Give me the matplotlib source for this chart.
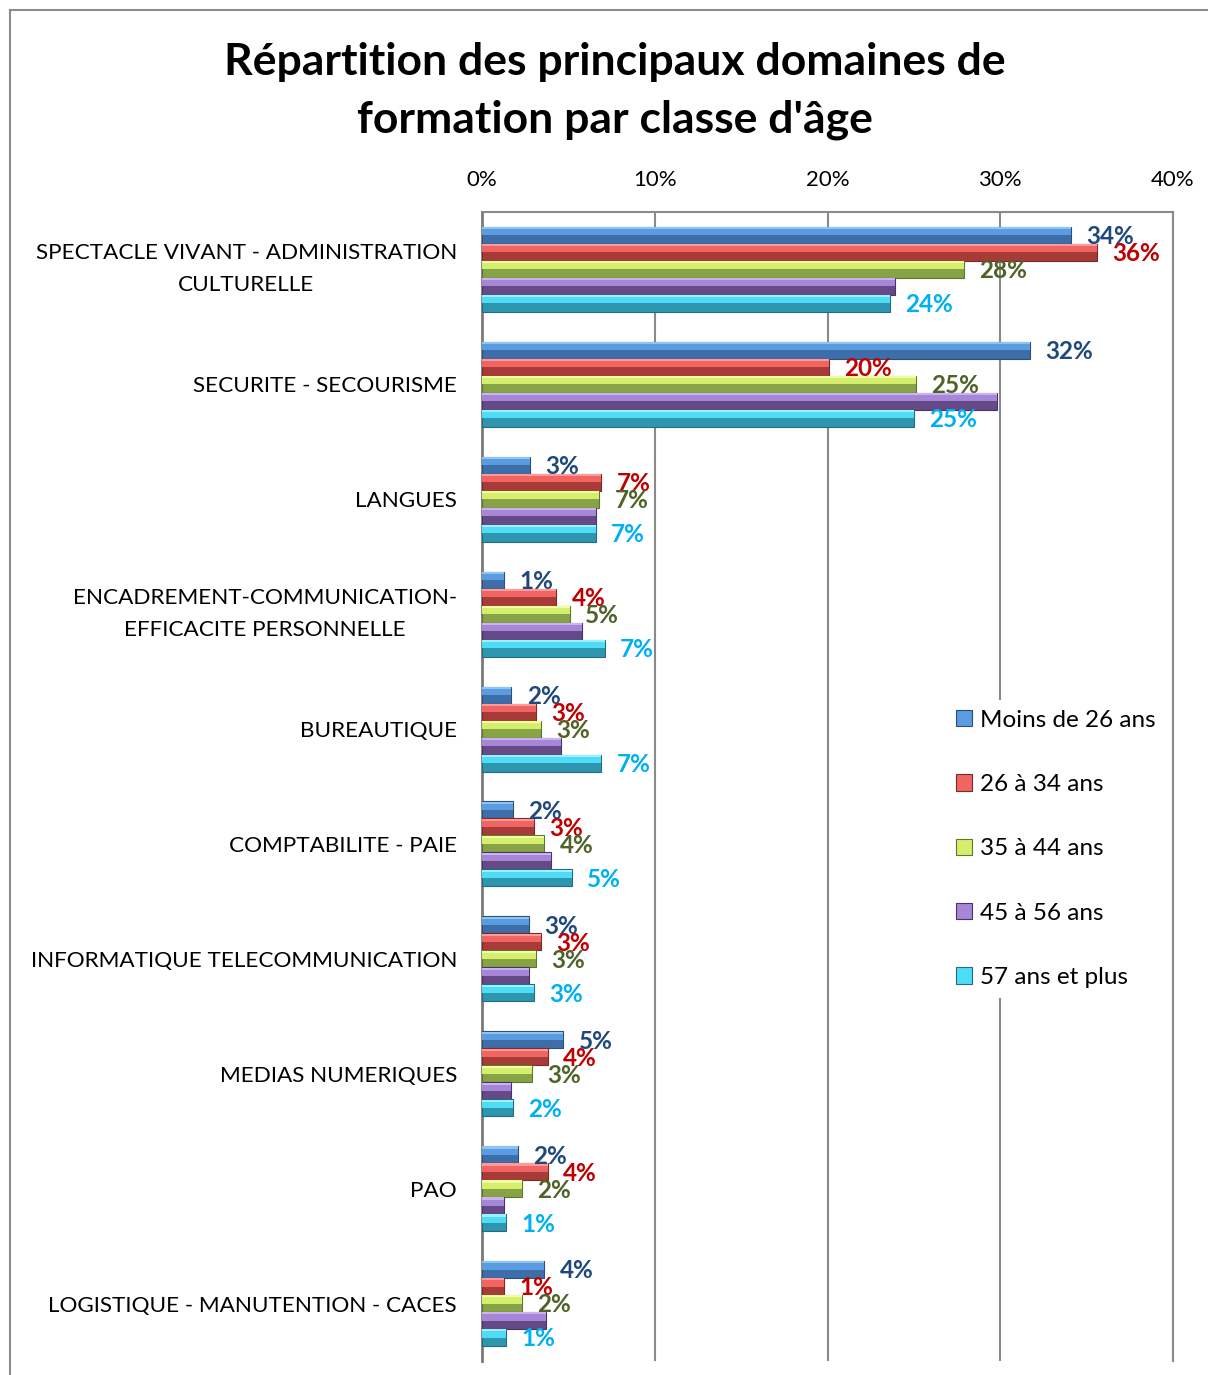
import numpy as np
import matplotlib
matplotlib.use("Agg")
import matplotlib.pyplot as plt
from matplotlib.patches import Patch
from matplotlib.lines import Line2D

plt.rcParams['font.family'] = ['Lato', 'DejaVu Sans']

categories = [
    "SPECTACLE VIVANT - ADMINISTRATION\nCULTURELLE",
    "SECURITE - SECOURISME",
    "LANGUES",
    "ENCADREMENT-COMMUNICATION-\nEFFICACITE PERSONNELLE",
    "BUREAUTIQUE",
    "COMPTABILITE - PAIE",
    "INFORMATIQUE TELECOMMUNICATION",
    "MEDIAS NUMERIQUES",
    "PAO",
    "LOGISTIQUE - MANUTENTION - CACES",
]
series_names = ["Moins de 26 ans", "26 à 34 ans", "35 à 44 ans", "45 à 56 ans", "57 ans et plus"]

moins26 = [34.1, 31.7, 2.8, 1.3, 1.7, 1.8, 2.7, 4.7, 2.1, 3.6]
a26_34 = [35.6, 20.1, 6.9, 4.3, 3.1, 3.0, 3.4, 3.8, 3.8, 1.3]
a35_44 = [27.9, 25.1, 6.8, 5.1, 3.4, 3.6, 3.1, 2.9, 2.3, 2.3]
a45_56 = [23.9, 29.8, 6.6, 5.8, 4.6, 4.0, 2.7, 1.7, 1.3, 3.7]
a57plus = [23.6, 25.0, 6.6, 7.1, 6.9, 5.2, 3.0, 1.8, 1.4, 1.4]
values = [moins26, a26_34, a35_44, a45_56, a57plus]

xticks = [0, 10, 20, 30, 40]

# (dark body, light top, highlight, edge, label colour)
styles = [
    ("#3E6EAA", "#5B9BE0", "#8CC4F8", "#2C4F7A", "#1F497D"),
    ("#A83A38", "#F06461", "#FF9A98", "#7A2A28", "#C00000"),
    ("#86A446", "#D6EE6E", "#EEFFA0", "#5F7632", "#4F6228"),
    ("#664A88", "#A686D6", "#CDB2F2", "#49346A", None),
    ("#2F96B0", "#4FDCF6", "#9AF2FF", "#216C80", "#00B0F0"),
]

W, H = 1208, 1375
fig = plt.figure(figsize=(W / 100, H / 100), dpi=100)
ax = fig.add_axes([482 / W, 1 - 1361 / H, (1173 - 482) / W, (1361 - 212) / H])

y = np.arange(len(categories))
h = 0.148
for i, vals in enumerate(values):
    dark, light, hi, edge, lab = styles[i]
    yy = y + (i - 2) * h
    ax.barh(yy, vals, height=h, color=dark, edgecolor=edge, lw=0.8, zorder=3)
    ax.barh(yy - h * 0.24, vals, height=h * 0.48, color=light, lw=0, zorder=4)
    ax.barh(yy - h * 0.42, vals, height=h * 0.12, color=hi, lw=0, zorder=5)
    if lab is None:
        continue
    for v, yp in zip(vals, yy):
        ax.annotate(f"{round(v)}%", xy=(v, yp), xytext=(11, -1), textcoords="offset points",
                    va="center", ha="left", color=lab, fontsize=17.5, fontweight="bold", zorder=6)

ax.set_xlim(0, 40)
ax.set_ylim(len(categories) - 0.5, -0.5)
ax.set_xticks(xticks)
ax.set_xticklabels([f"{t}%" for t in xticks], fontsize=16)
ax.xaxis.tick_top()
ax.tick_params(axis="x", length=0, pad=16)
ax.set_yticks(y)
ax.set_yticklabels(categories, fontsize=16.2, linespacing=1.75)
for t in ax.get_yticklabels():
    t.set_multialignment("center")
    if "\n" in t.get_text():
        t.set_verticalalignment("center")
ax.tick_params(axis="y", length=0, pad=18)

ax.grid(axis="x", color="#8a8a8a", lw=1.5, zorder=1)
ax.set_axisbelow(True)
for s in ["top", "right"]:
    ax.spines[s].set_color("#8a8a8a")
    ax.spines[s].set_linewidth(1.5)
ax.spines["left"].set_color("#7a7a7a")
ax.spines["left"].set_linewidth(2)
ax.spines["bottom"].set_visible(False)

handles = [Patch(facecolor=s[1], edgecolor=s[3], lw=0.8) for s in styles]
leg = ax.legend(handles, series_names, loc="upper left", bbox_to_anchor=(934 / W, 1 - 688 / H),
                bbox_transform=fig.transFigure, frameon=True, fontsize=17.5, labelspacing=1.78,
                handlelength=0.65, handleheight=0.65, handletextpad=0.35, borderpad=0.4)
leg.get_frame().set_facecolor("white")
leg.get_frame().set_edgecolor("none")
leg.get_frame().set_alpha(1)
leg.set_zorder(10)

fig.text(615 / W, 1 - 91 / H, "Répartition des principaux domaines de\nformation par classe d'âge",
         ha="center", va="center", fontsize=32, fontweight="bold", linespacing=1.55)

# outer chart frame
fig.add_artist(Line2D([10 / W, 10 / W], [0, 1 - 10 / H], transform=fig.transFigure, color="#8c8c8c", lw=1.5))
fig.add_artist(Line2D([10 / W, 1], [1 - 10 / H, 1 - 10 / H], transform=fig.transFigure, color="#8c8c8c", lw=1.5))

fig.savefig("out.png", dpi=100, facecolor="white")
